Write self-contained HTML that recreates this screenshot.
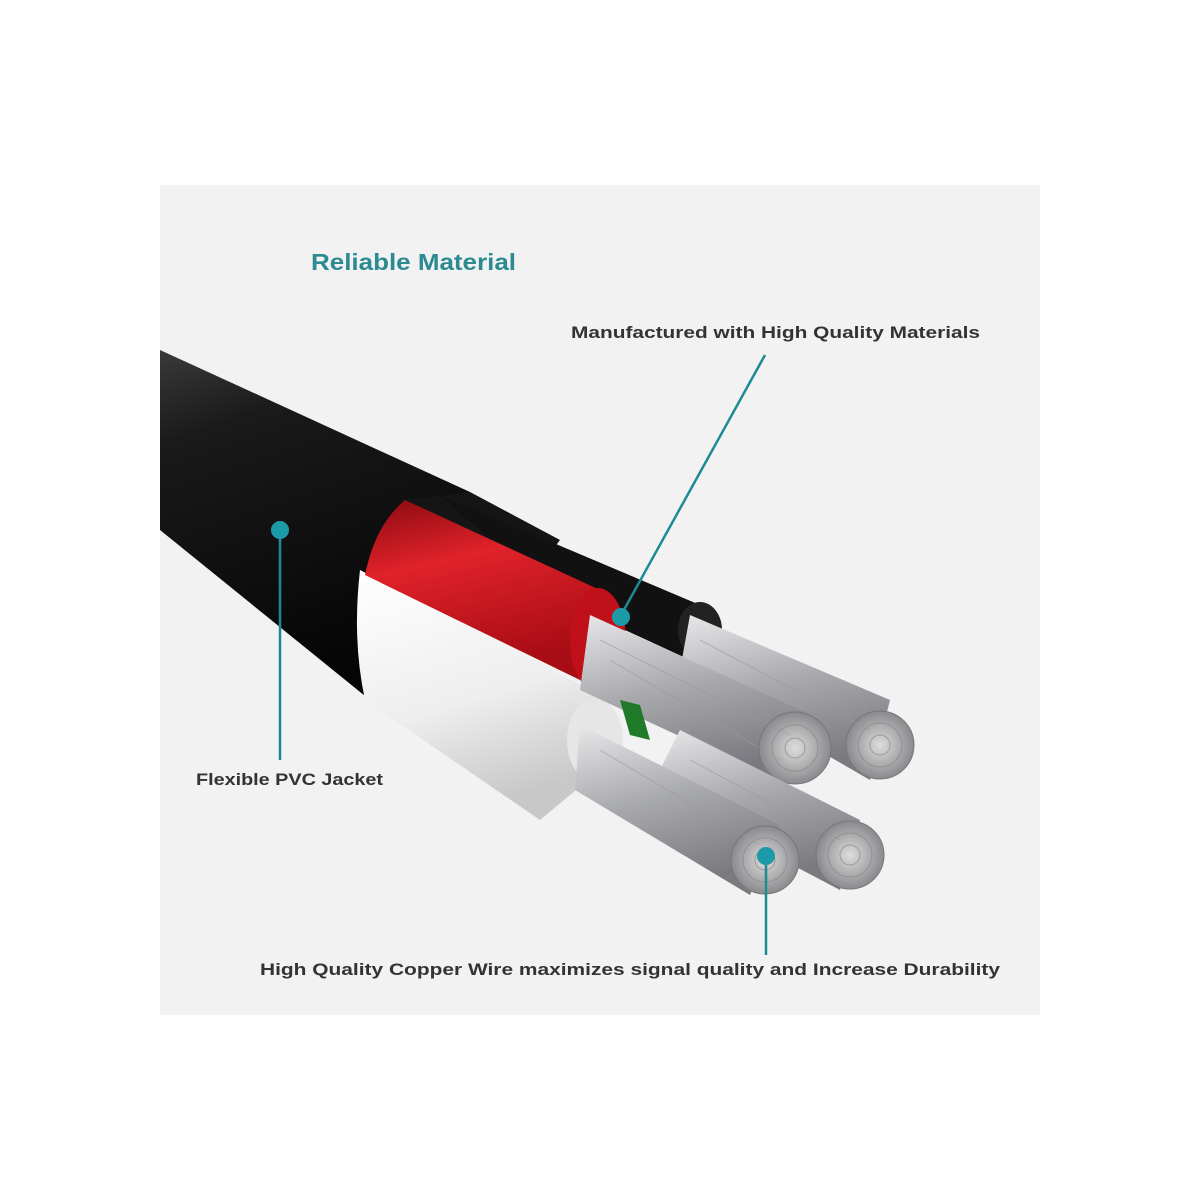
<!DOCTYPE html>
<html><head><meta charset="utf-8"><style>
html,body{margin:0;padding:0;background:#fff;}
svg{display:block}
text{font-family:"Liberation Sans",sans-serif;font-weight:bold}
</style></head><body>
<svg width="1200" height="1200" viewBox="0 0 1200 1200" xmlns="http://www.w3.org/2000/svg">
<defs>
<linearGradient id="blk" x1="0" y1="0" x2="0.3" y2="1">
<stop offset="0" stop-color="#3a3a3a"/><stop offset="0.25" stop-color="#1a1a1a"/><stop offset="1" stop-color="#050505"/></linearGradient>
<linearGradient id="red" x1="0" y1="0" x2="0.3" y2="1">
<stop offset="0" stop-color="#8a0a10"/><stop offset="0.4" stop-color="#e0222a"/><stop offset="1" stop-color="#a80c14"/></linearGradient>
<linearGradient id="wht" x1="0" y1="0" x2="0.3" y2="1">
<stop offset="0" stop-color="#ffffff"/><stop offset="0.6" stop-color="#eeeeee"/><stop offset="1" stop-color="#c8c8c8"/></linearGradient>
<linearGradient id="sil" x1="0" y1="0" x2="0.3" y2="1">
<stop offset="0" stop-color="#e8e8ea"/><stop offset="0.5" stop-color="#a9aaae"/><stop offset="1" stop-color="#7a7b80"/></linearGradient>
<radialGradient id="end"><stop offset="0" stop-color="#ddd"/><stop offset="1" stop-color="#8a8a8e"/></radialGradient>
</defs>
<rect width="1200" height="1200" fill="#fff"/>
<rect x="160" y="185" width="880" height="830" fill="#f2f2f2"/>
<text x="311" y="270" font-size="23" fill="#2c8a90" textLength="205" lengthAdjust="spacingAndGlyphs">Reliable Material</text>

<!-- black jacket -->
<path d="M160,350 L470,492 Q395,520 365,600 Q350,660 370,700 L160,530 Z" fill="url(#blk)"/>
<path d="M400,500 L470,492 L560,540 L500,620 Z" fill="#151515"/>
<!-- inner black wire -->
<path d="M440,495 L700,605 L690,660 L560,600 Z" fill="#111"/>
<ellipse cx="700" cy="630" rx="22" ry="28" fill="#222"/>
<!-- white sheath -->
<path d="M360,570 L610,700 L600,770 L540,820 L365,700 Q352,640 360,570 Z" fill="url(#wht)"/>
<ellipse cx="595" cy="740" rx="28" ry="42" fill="#e6e6e6"/>
<!-- red wire -->
<path d="M405,500 L600,590 L580,680 L365,575 Q375,525 405,500 Z" fill="url(#red)"/>
<ellipse cx="598" cy="640" rx="28" ry="52" fill="#c0101a"/>
<!-- strand bundles -->
<g>
<path d="M690,615 L890,700 L870,780 L680,670 Z" fill="url(#sil)"/>
<circle cx="880" cy="745" r="34" fill="url(#end)" stroke="#777"/>
<path d="M590,615 L805,712 L785,785 L580,690 Z" fill="url(#sil)"/>
<circle cx="795" cy="748" r="36" fill="url(#end)" stroke="#777"/>
<path d="M680,730 L860,820 L840,890 L650,790 Z" fill="url(#sil)"/>
<circle cx="850" cy="855" r="34" fill="url(#end)" stroke="#777"/>
<path d="M580,725 L780,825 L750,895 L575,790 Z" fill="url(#sil)"/>
<circle cx="765" cy="860" r="34" fill="url(#end)" stroke="#777"/>
<path d="M620,700 L640,705 L650,740 L630,735 Z" fill="#1f7a2a"/>
</g>
<g fill="none" stroke="#888" stroke-width="1" opacity="0.7">
<circle cx="880" cy="745" r="10"/><circle cx="880" cy="745" r="22"/>
<circle cx="795" cy="748" r="10"/><circle cx="795" cy="748" r="23"/>
<circle cx="850" cy="855" r="10"/><circle cx="850" cy="855" r="22"/>
<circle cx="765" cy="860" r="10"/><circle cx="765" cy="860" r="22"/>
</g>
<g stroke="#999" stroke-width="1" opacity="0.6">
<line x1="600" y1="640" x2="790" y2="735"/><line x1="610" y1="660" x2="780" y2="760"/>
<line x1="700" y1="640" x2="870" y2="730"/><line x1="600" y1="750" x2="760" y2="845"/>
<line x1="690" y1="760" x2="840" y2="840"/>
</g>

<!-- callouts -->
<g stroke="#1d8b96" stroke-width="2.5">
<line x1="620" y1="617" x2="765" y2="355"/>
<line x1="280" y1="530" x2="280" y2="760"/>
<line x1="766" y1="858" x2="766" y2="955"/>
</g>
<g fill="#1d9aa8">
<circle cx="621" cy="617" r="9"/><circle cx="280" cy="530" r="9"/><circle cx="766" cy="856" r="9"/>
</g>

<text x="571" y="338" font-size="17" fill="#333" textLength="409" lengthAdjust="spacingAndGlyphs">Manufactured with High Quality Materials</text>
<text x="196" y="785" font-size="17" fill="#333" textLength="187" lengthAdjust="spacingAndGlyphs">Flexible PVC Jacket</text>
<text x="260" y="975" font-size="17" fill="#333" textLength="740" lengthAdjust="spacingAndGlyphs">High Quality Copper Wire maximizes signal quality and Increase Durability</text>
</svg>
</body></html>
